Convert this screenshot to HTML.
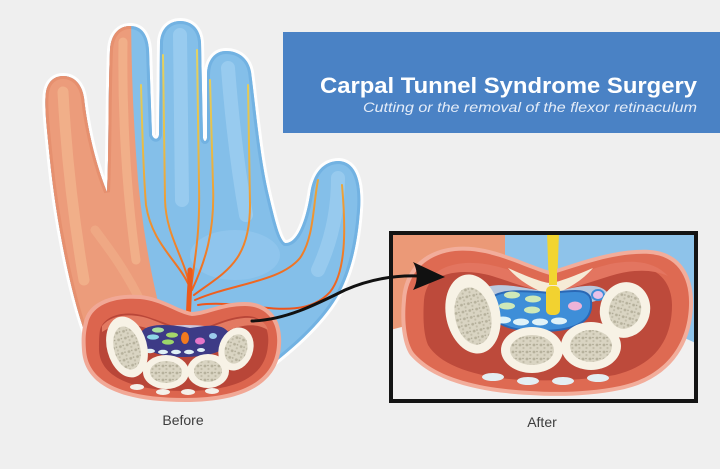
<!DOCTYPE html>
<html><head><meta charset="utf-8"><style>
html,body{margin:0;padding:0;background:#efefef;}
svg{display:block;}
</style></head><body>
<svg width="720" height="469" viewBox="0 0 720 469" xmlns="http://www.w3.org/2000/svg">
<defs>
  <clipPath id="handClip"><path id="handP" d="M84,330 C70,290 56,220 50,160 C47,130 44,105 46,92 C48,80 56,76 63,76 C74,76 82,84 84,98 C88,135 98,170 107,192 C109,150 108,100 110,50 C111,33 120,26 130,26 C142,26 148,35 149,50 L152,135 C154,140 158,140 159,135 L160,42 C161,28 170,21 180,21 C192,21 200,29 201,42 L203,138 C204,142 206,142 207,138 L207,75 C207,60 215,51 226,51 C240,51 249,60 251,72 C256,110 260,160 270,200 C276,225 280,240 285,243 C296,244 305,225 310,195 C313,172 324,161 339,161 C356,162 362,182 360,210 C358,238 353,265 342,288 C330,313 305,340 265,370 L150,390 L95,360 Z"/></clipPath>
  <clipPath id="orangeClip"><path d="M0,0 L131,0 C131,60 133,120 138,180 C143,230 150,270 160,310 L160,469 L0,469 Z"/></clipPath>
  <clipPath id="frameClip"><rect x="393" y="235" width="301" height="164"/></clipPath>
  <pattern id="tex" width="7" height="7" patternUnits="userSpaceOnUse">
    <rect width="7" height="7" fill="#d9d4c2"/>
    <circle cx="2" cy="2" r="1.4" fill="#b6b19c"/>
    <circle cx="5.5" cy="5" r="1.1" fill="#c2bda9"/>
    <circle cx="5" cy="1.5" r="0.8" fill="#a9a48f"/>
  </pattern>
  <linearGradient id="nerveG" gradientUnits="userSpaceOnUse" x1="0" y1="320" x2="0" y2="40">
    <stop offset="0" stop-color="#ee4b18"/>
    <stop offset="0.3" stop-color="#f08a2c"/>
    <stop offset="0.65" stop-color="#e6c04a"/>
    <stop offset="1" stop-color="#e2d567"/>
  </linearGradient>
</defs>

<rect width="720" height="469" fill="#efefef"/>

<!-- HAND -->
<use href="#handP" fill="none" stroke="#ffffff" stroke-width="6" opacity="0.9"/>
<use href="#handP" fill="#84bfe9"/>
<g clip-path="url(#handClip)">
  <use href="#handP" fill="none" stroke="#72b2e2" stroke-width="6"/>
  <!-- blue highlights -->
  <path d="M180,35 L182,200" stroke="#a9d5f4" stroke-width="14" opacity="0.55" fill="none" stroke-linecap="round"/>
  <path d="M228,68 C232,120 238,170 246,215" stroke="#a9d5f4" stroke-width="14" opacity="0.55" fill="none" stroke-linecap="round"/>
  <path d="M338,178 C338,210 332,240 318,270" stroke="#a9d5f4" stroke-width="14" opacity="0.5" fill="none" stroke-linecap="round"/>
  <ellipse cx="235" cy="255" rx="45" ry="25" fill="#a0cff2" opacity="0.4"/>
  <!-- orange region -->
  <g clip-path="url(#orangeClip)">
    <rect x="0" y="0" width="170" height="469" fill="#ec9c7b"/>
    <use href="#handP" fill="none" stroke="#e6906f" stroke-width="6"/>
    <path d="M63,92 C66,150 72,210 84,280" stroke="#f6bf95" stroke-width="11" opacity="0.55" fill="none" stroke-linecap="round"/>
    <path d="M123,42 C122,110 126,190 136,260" stroke="#f6bf95" stroke-width="9" opacity="0.55" fill="none" stroke-linecap="round"/>
    <path d="M95,230 C110,250 125,270 140,300" stroke="#f6bf95" stroke-width="9" opacity="0.35" fill="none" stroke-linecap="round"/>
  </g>
</g>

<!-- NERVES -->
<g fill="none" stroke="url(#nerveG)" stroke-linecap="round">
  <path d="M190,288 C180,262 152,245 146,205 C143,170 142,120 141,85" stroke-width="2"/>
  <path d="M190,288 C185,258 166,236 165,200 L163,55" stroke-width="2"/>
  <path d="M191,288 C196,252 200,230 199,185 L197,50" stroke-width="2"/>
  <path d="M192,290 C205,262 215,232 213,185 L210,80" stroke-width="2"/>
  <path d="M194,295 C225,272 250,262 250,205 L248,85" stroke-width="2"/>
  <path d="M195,300 C235,283 280,282 300,258 C314,238 313,205 318,180" stroke-width="2"/>
  <path d="M198,305 C245,298 300,325 330,292 C346,272 346,230 342,185" stroke-width="2"/>
  <path d="M188,322 C189,305 189,296 190,284 L190,270" stroke="#ea5a1c" stroke-width="5"/>
</g>

<!-- BEFORE CROSS-SECTION -->
<path d="M84,322 C88,302 112,293 140,295 C162,297 178,310 192,312 C208,311 222,302 245,302 C268,302 283,318 281,345 C279,380 250,402 185,402 C120,402 84,385 82,350 C81,338 82,330 84,322 Z" fill="#f1a896"/>
<path d="M88,323 C92,305 114,297 140,299 C162,301 178,314 192,316 C208,315 222,306 245,306 C265,306 279,320 277,345 C275,377 248,398 185,398 C122,398 88,382 86,350 C85,338 86,330 88,323 Z" fill="#dc654e"/>
<path d="M100,330 C104,315 125,310 145,316 C165,322 180,330 192,331 C205,330 222,318 245,316 C262,315 270,328 268,345 C266,372 245,390 188,391 C128,391 100,375 99,350 C99,342 99,336 100,330 Z" fill="#b94638"/>
<path d="M102,326 C112,314 132,313 150,319 C166,325 180,332 191,333 C205,332 222,320 244,318 C258,317 266,322 268,330 C255,322 240,325 225,332 C210,340 200,343 190,344 C178,343 166,337 152,330 C135,323 115,323 102,332 Z" fill="#e37a62"/>
<ellipse cx="186" cy="338" rx="48" ry="13" fill="#cbc8de"/>
<path d="M142,331 C150,322 175,325 190,328 C205,326 222,322 229,333 C233,346 222,356 185,357 C150,357 136,346 142,331 Z" fill="#3d3b86"/>
<g>
  <ellipse cx="158" cy="330" rx="6" ry="2.6" fill="#a8e0a0"/>
  <ellipse cx="172" cy="335" rx="6" ry="2.6" fill="#a5d86a"/>
  <ellipse cx="153" cy="337" rx="6" ry="2.6" fill="#8ed8e6"/>
  <ellipse cx="168" cy="342" rx="6" ry="2.6" fill="#9bd66a"/>
  <ellipse cx="185" cy="338" rx="4" ry="6" fill="#f27a1e"/>
  <ellipse cx="200" cy="341" rx="5" ry="3.5" fill="#e676c8"/>
  <ellipse cx="213" cy="336" rx="4" ry="3" fill="#9ccbec"/>
  <ellipse cx="150" cy="351" rx="5" ry="2.2" fill="#dff1f6"/>
  <ellipse cx="163" cy="352" rx="5" ry="2.2" fill="#dff1f6"/>
  <ellipse cx="176" cy="352" rx="5" ry="2.2" fill="#dff1f6"/>
  <ellipse cx="189" cy="352" rx="5" ry="2.2" fill="#dff1f6"/>
  <ellipse cx="201" cy="350" rx="4" ry="2" fill="#dff1f6"/>
</g>
<g>
  <ellipse cx="127" cy="347" rx="20" ry="31" transform="rotate(-15 127 347)" fill="#f7f2e6"/>
  <ellipse cx="127" cy="348" rx="13" ry="22" transform="rotate(-15 127 348)" fill="url(#tex)"/>
  <ellipse cx="166" cy="372" rx="23" ry="17" fill="#f7f2e6"/>
  <ellipse cx="166" cy="372" rx="16" ry="11" fill="url(#tex)"/>
  <ellipse cx="208" cy="371" rx="21" ry="17" fill="#f7f2e6"/>
  <ellipse cx="208" cy="371" rx="14" ry="11" fill="url(#tex)"/>
  <ellipse cx="236" cy="349" rx="17" ry="22" transform="rotate(20 236 349)" fill="#f7f2e6"/>
  <ellipse cx="236" cy="349" rx="11" ry="15" transform="rotate(20 236 349)" fill="url(#tex)"/>
</g>
<g fill="#f4f0ea">
  <ellipse cx="137" cy="387" rx="7" ry="3"/>
  <ellipse cx="163" cy="392" rx="7" ry="3"/>
  <ellipse cx="188" cy="392" rx="7" ry="3"/>
  <ellipse cx="212" cy="391" rx="7" ry="3"/>
</g>

<!-- AFTER FRAME CONTENT -->
<g clip-path="url(#frameClip)">
  <rect x="390" y="232" width="310" height="172" fill="#f1f0f0"/>
  <path d="M390,232 L510,232 L505,300 L390,330 Z" fill="#eb9977"/>
  <path d="M505,232 L700,232 L700,345 L600,300 L505,300 Z" fill="#8ec3ea"/>
  <path d="M547,232 L559,232 L557,290 L549,290 Z" fill="#f2d530"/>
  <path d="M402,300 C404,268 425,250 455,247 C490,244 520,262 550,271 C580,262 615,248 650,250 C680,252 694,275 693,305 C692,345 670,380 620,390 C590,396 560,397 530,395 C470,392 430,378 410,355 C402,343 400,320 402,300 Z" fill="#f2ad9b"/>
  <path d="M406,300 C408,271 428,254 455,251 C490,248 520,266 550,275 C580,266 615,252 650,254 C677,256 690,277 689,305 C688,343 667,376 620,386 C590,392 560,393 530,391 C472,388 433,375 414,353 C406,342 404,320 406,300 Z" fill="#de6a52"/>
  <path d="M424,300 C426,280 440,268 460,268 C490,268 515,282 550,289 C585,282 615,268 640,268 C660,268 672,285 672,305 C672,340 655,365 615,375 C585,380 555,381 525,380 C475,378 440,365 428,345 C423,333 423,315 424,300 Z" fill="#bd4a3b"/>
  <path d="M430,278 C445,262 470,260 495,266 C520,272 538,282 550,283 C562,282 585,270 610,264 C635,259 655,262 668,276 C650,268 630,270 610,276 C590,282 570,290 550,292 C530,290 512,282 492,276 C470,270 448,270 430,282 Z" fill="#e37560"/>
  <path d="M478,290 C500,279 530,290 550,292 C570,290 595,279 607,292 C602,306 575,303 550,303 C520,303 488,306 478,290 Z" fill="#b9c8de"/>
  <path d="M508,268 C528,277 544,283 550,283 C556,283 572,277 593,268 C582,281 567,289 557,293 L545,293 C534,289 519,281 508,268 Z" fill="#f6ebd6"/>
  <path d="M549,262 L557,262 L557,285 L549,285 Z" fill="#f2d530"/>
  <path d="M490,301 C494,288 530,291 550,293 C570,291 590,287 591,301 C593,319 580,331 540,331 C505,331 486,321 490,301 Z" fill="#3e8ed8" stroke="#2a68b5" stroke-width="2"/>
  <ellipse cx="512" cy="295" rx="8" ry="3.5" fill="#cfe9b8"/>
  <ellipse cx="533" cy="299" rx="8" ry="3.5" fill="#cfe9b8"/>
  <ellipse cx="507" cy="306" rx="8" ry="3.5" fill="#cfe9b8"/>
  <ellipse cx="532" cy="310" rx="8" ry="3.5" fill="#cfe9b8"/>
  <ellipse cx="503" cy="320" rx="8" ry="3.5" fill="#dff2f8"/>
  <ellipse cx="521" cy="322" rx="8" ry="3.5" fill="#dff2f8"/>
  <ellipse cx="540" cy="322" rx="8" ry="3.5" fill="#dff2f8"/>
  <ellipse cx="559" cy="321" rx="8" ry="3.5" fill="#dff2f8"/>
  <ellipse cx="575" cy="306" rx="7" ry="4.5" fill="#eeb3d8"/>
  <ellipse cx="598" cy="295" rx="6" ry="5" fill="#e8c1e8" stroke="#3e8ed8" stroke-width="2"/>
  <rect x="546" y="286" width="14" height="29" rx="5" fill="#f2d230"/>
  <ellipse cx="473" cy="314" rx="27" ry="40" transform="rotate(-12 473 314)" fill="#f7f2e5"/>
  <ellipse cx="473" cy="316" rx="18" ry="29" transform="rotate(-12 473 316)" fill="url(#tex)"/>
  <ellipse cx="532" cy="350" rx="31" ry="23" fill="#f7f2e5"/>
  <ellipse cx="532" cy="350" rx="22" ry="15" fill="url(#tex)"/>
  <ellipse cx="591" cy="346" rx="30" ry="24" fill="#f7f2e5"/>
  <ellipse cx="591" cy="346" rx="21" ry="16" fill="url(#tex)"/>
  <ellipse cx="625" cy="310" rx="25" ry="28" transform="rotate(15 625 310)" fill="#f7f2e5"/>
  <ellipse cx="625" cy="310" rx="16" ry="19" transform="rotate(15 625 310)" fill="url(#tex)"/>
  <g fill="#e4eef2">
    <ellipse cx="493" cy="377" rx="11" ry="4"/>
    <ellipse cx="528" cy="381" rx="11" ry="4"/>
    <ellipse cx="563" cy="381" rx="11" ry="4"/>
    <ellipse cx="598" cy="378" rx="11" ry="4"/>
  </g>
</g>
<rect x="391" y="233" width="305" height="168" fill="none" stroke="#141414" stroke-width="4"/>

<!-- ARROW -->
<path d="M252,321 C285,320 315,305 345,290 C370,279 395,275 420,276" fill="none" stroke="#111" stroke-width="3" stroke-linecap="round"/>
<path d="M413,262 L445,277 L413,290 C418,282 418,270 413,262 Z" fill="#111"/>

<!-- LABELS -->
<text x="183" y="425" font-family="Liberation Sans, sans-serif" font-size="14" fill="#3d3d3d" text-anchor="middle">Before</text>
<text x="542" y="427" font-family="Liberation Sans, sans-serif" font-size="14" fill="#3d3d3d" text-anchor="middle">After</text>

<!-- TITLE BOX -->
<rect x="283" y="32" width="437" height="101" fill="#4a82c5"/>
<text x="320" y="93" font-family="Liberation Sans, sans-serif" font-size="22" font-weight="bold" fill="#ffffff" textLength="377" lengthAdjust="spacingAndGlyphs">Carpal Tunnel Syndrome Surgery</text>
<text x="363" y="112" font-family="Liberation Sans, sans-serif" font-size="13.5" font-style="italic" fill="#e4ecf8" textLength="334" lengthAdjust="spacingAndGlyphs">Cutting or the removal of the flexor retinaculum</text>
</svg>
</body></html>
